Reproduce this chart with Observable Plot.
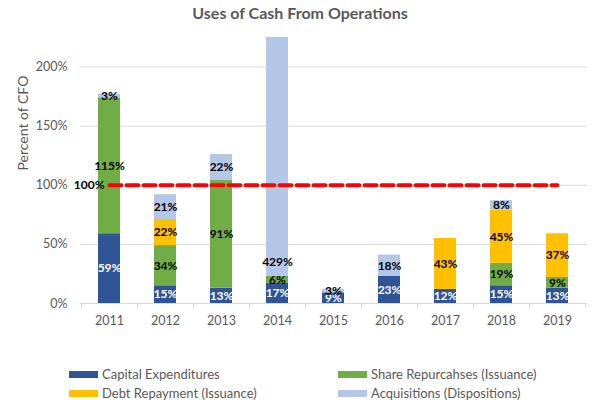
<!DOCTYPE html>
<html><head><meta charset="utf-8">
<script src="https://cdn.jsdelivr.net/npm/d3@7"></script>
<script src="https://cdn.jsdelivr.net/npm/@observablehq/plot@0.6"></script>
<style>
body{margin:0;background:#fff;font-family:Lato,"Open Sans",sans-serif;}
#wrap{position:relative;width:600px;height:400px;overflow:hidden;}
#title{position:absolute;left:0;top:3px;width:600px;text-align:center;font-weight:bold;font-size:16px;color:#595959;}
#chart{position:absolute;left:0;top:30px;}
.leg{position:absolute;font-size:13px;color:#595959;display:flex;align-items:center;height:16px;white-space:nowrap;}
.sw{width:29px;height:7px;margin-right:4px;}
</style></head><body>
<div id="wrap">
<div id="title">Uses of Cash From Operations</div>
<div id="chart"></div>
<div id="legend"></div>
</div>
<script>
const years = ["2011","2012","2013","2014","2015","2016","2017","2018","2019"];
const series = ["Capital Expenditures","Share Repurcahses (Issuance)","Debt Repayment (Issuance)","Acquisitions (Dispositions)"];
const colors = ["#2F5597","#70AD47","#FFC000","#B4C7E7"];
const capex  = [59, 15, 13, 17, 9, 23, 12, 15, 13];
const shares = [115, 34, 91, 6, 0, 0, 0, 19, 9];
const debt   = [0, 22, 0, 0, 0, 0, 43, 45, 37];
const acq    = [3, 21, 22, 429, 3, 18, 0, 8, 0];
const yTicks = [0, 50, 100, 150, 200];
const refLevel = 100;
const yMax = 225;

const values = [capex, shares, debt, acq];
const rows = [];
years.forEach((yr, i) => {
  let base = 0;
  values.forEach((arr, s) => {
    const v = arr[i];
    const mid = base + v / 2;
    rows.push({year: yr, series: series[s], value: v, labelY: mid > yMax ? base + 12 : mid, label: v + "%", white: s === 0});
    base += v;
  });
});

const W = 600, ML = 80, MR = 13;
const bw = (W - ML - MR) / years.length;

const plot = Plot.plot({
  width: W, height: 310, marginLeft: ML, marginRight: MR, marginTop: 7, marginBottom: 37,
  style: {fontFamily: "Lato, 'Open Sans', sans-serif", fontSize: "12.5px", color: "#595959", background: "transparent"},
  x: {domain: years, paddingInner: 0.6, paddingOuter: 0.3, label: null},
  y: {domain: [0, yMax], label: null},
  color: {domain: series, range: colors},
  marks: [
    Plot.ruleY(yTicks.filter(t => t > 0), {stroke: "#D9D9D9", strokeWidth: 1}),
    Plot.barY(rows, {x: "year", y: "value", fill: "series", clip: true}),
    Plot.ruleY([0], {stroke: "#D9D9D9", strokeWidth: 1}),
    Plot.axisX({tickSize: 5, dx: -bw / 2, tickFormat: () => "", stroke: "#D9D9D9", label: null}),
    Plot.axisX({ticks: [years[years.length - 1]], dx: bw / 2, tickSize: 5, tickFormat: () => "", stroke: "#D9D9D9", label: null}),
    Plot.axisX({tickSize: 0, tickPadding: 13, fill: "#595959", label: null}),
    Plot.axisY({ticks: yTicks, tickSize: 0, tickPadding: 13, tickFormat: d => d + "%", fill: "#595959", label: null}),
    Plot.text(["Percent of CFO"], {frameAnchor: "left", dx: -57, rotate: -90, fontSize: 14, fill: "#595959"}),
    Plot.lineY(years, {x: d => d, y: () => refLevel, stroke: "#FF0000", strokeWidth: 4, strokeDasharray: "12,5"}),
    Plot.text([refLevel], {x: () => years[0], y: d => d, text: d => d + "%", textAnchor: "end", dx: -5, fontWeight: "bold", fontSize: 12, fill: "#000"}),
    Plot.text(rows.filter(r => r.value > 0 && r.white), {x: "year", y: "labelY", text: "label", fontWeight: "bold", fontSize: 12, fill: "#fff"}),
    Plot.text(rows.filter(r => r.value > 0 && !r.white), {x: "year", y: "labelY", text: "label", fontWeight: "bold", fontSize: 12, fill: "#000"})
  ]
});
document.getElementById("chart").appendChild(plot);

const legPos = [[69, 366], [338, 366], [69, 385], [338, 385]];
const leg = document.getElementById("legend");
series.forEach((s, i) => {
  const d = document.createElement("div");
  d.className = "leg";
  d.style.left = legPos[i][0] + "px";
  d.style.top = legPos[i][1] + "px";
  d.innerHTML = `<span class="sw" style="background:${colors[i]}"></span><span>${s}</span>`;
  leg.appendChild(d);
});
</script>
</body></html>
